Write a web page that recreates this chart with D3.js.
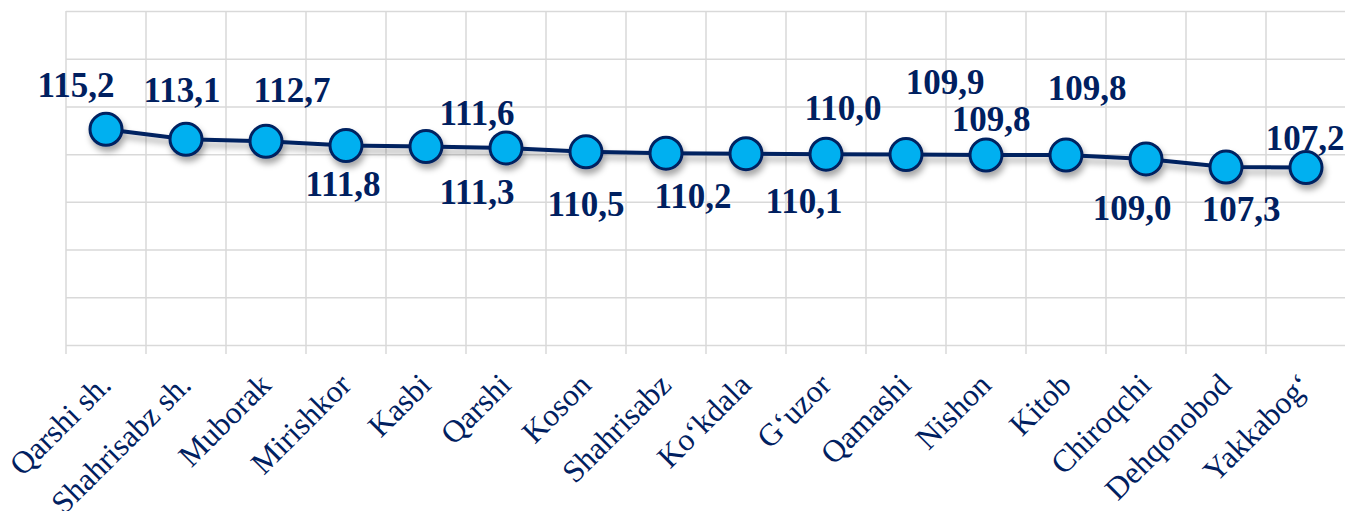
<!DOCTYPE html>
<html>
<head>
<meta charset="utf-8">
<script src="https://cdn.jsdelivr.net/npm/d3@7"></script>
<style>
  html, body { margin: 0; padding: 0; background: #ffffff; }
  svg { display: block; }
</style>
</head>
<body>
<svg id="chart" width="1345" height="511"></svg>
<script>
// ---- data ----
const categories = ["Qarshi sh.", "Shahrisabz sh.", "Muborak", "Mirishkor", "Kasbi", "Qarshi",
  "Koson", "Shahrisabz", "Ko\u2018kdala", "G\u2018uzor", "Qamashi", "Nishon", "Kitob",
  "Chiroqchi", "Dehqonobod", "Yakkabog\u2018"];
const values = [115.2, 113.1, 112.7, 111.8, 111.6, 111.3, 110.5, 110.2, 110.1, 110.0,
  109.9, 109.8, 109.8, 109.0, 107.3, 107.2];
const yTicks = [70, 80, 90, 100, 110, 120, 130, 140];

// ---- label placement (layout only, px offsets from the marker) ----
const labelDx = [-30, -4, 26, -3, 51, -29, 0, 27, 58, 17, 39, 5, 21, -14, 15, -1];
const labelDy = [-32, -37, -39, 50, -22, 56, 64, 55, 59, -34, -61, -24, -55, 61, 54, -18];

const navy = "#002060";
const cyan = "#00B0F0";
const grid = "#d9d9d9";

const svg = d3.select("#chart");
const pLeft = 66, pRight = 1346, pTop = 11, pBottom = 345;

const x = d3.scaleBand().domain(categories).range([pLeft, pRight]).padding(0);
const y = d3.scaleLinear().domain([70, 140]).range([pBottom, pTop]);

const defs = svg.append("defs");
const f = defs.append("filter").attr("id", "shadow")
  .attr("x", "-10%").attr("y", "-50%").attr("width", "120%").attr("height", "200%");
f.append("feDropShadow").attr("dx", 2).attr("dy", 5).attr("stdDeviation", 3)
  .attr("flood-color", "#000").attr("flood-opacity", 0.35);

// horizontal gridlines
const yAxis = d3.axisLeft(y).tickValues(yTicks).tickSize(-(pRight - pLeft)).tickFormat("");
const gy = svg.append("g").attr("transform", `translate(${pLeft},0)`).call(yAxis);
gy.select(".domain").remove();
gy.selectAll(".tick line").attr("stroke", grid).attr("stroke-width", 1.5);

// vertical gridlines at band boundaries (extending below as tick marks)
svg.append("g").selectAll("line").data(categories).join("line")
  .attr("x1", d => x(d)).attr("x2", d => x(d))
  .attr("y1", pTop).attr("y2", pBottom + 9)
  .attr("stroke", grid).attr("stroke-width", 1.5);

// category labels
svg.append("g").selectAll("text").data(categories).join("text")
  .attr("transform", d => `translate(${x(d) + x.bandwidth() / 2 - 1},379) rotate(-45)`)
  .attr("text-anchor", "end")
  .attr("dy", "0.35em")
  .attr("font-family", "'Liberation Serif', 'Times New Roman', serif")
  .attr("font-size", 31.5)
  .attr("fill", navy)
  .text(d => d);

// line + markers
const pts = categories.map((c, i) => ({ c, v: values[i], i }));
const cx = d => x(d.c) + x.bandwidth() / 2;

const series = svg.append("g").attr("filter", "url(#shadow)");
series.append("path").datum(pts)
  .attr("d", d3.line().x(cx).y(d => y(d.v)))
  .attr("fill", "none").attr("stroke", navy).attr("stroke-width", 4);
series.selectAll("circle").data(pts).join("circle")
  .attr("cx", cx).attr("cy", d => y(d.v)).attr("r", 16)
  .attr("fill", cyan).attr("stroke", navy).attr("stroke-width", 3);

// data labels
svg.append("g").selectAll("text").data(pts).join("text")
  .attr("x", d => cx(d) + labelDx[d.i])
  .attr("y", d => y(d.v) + labelDy[d.i])
  .attr("text-anchor", "middle")
  .attr("font-family", "'Liberation Serif', 'Times New Roman', serif")
  .attr("font-weight", "bold")
  .attr("font-size", 35)
  .attr("fill", navy)
  .text(d => d.v.toFixed(1).replace(".", ","));
</script>
</body>
</html>
